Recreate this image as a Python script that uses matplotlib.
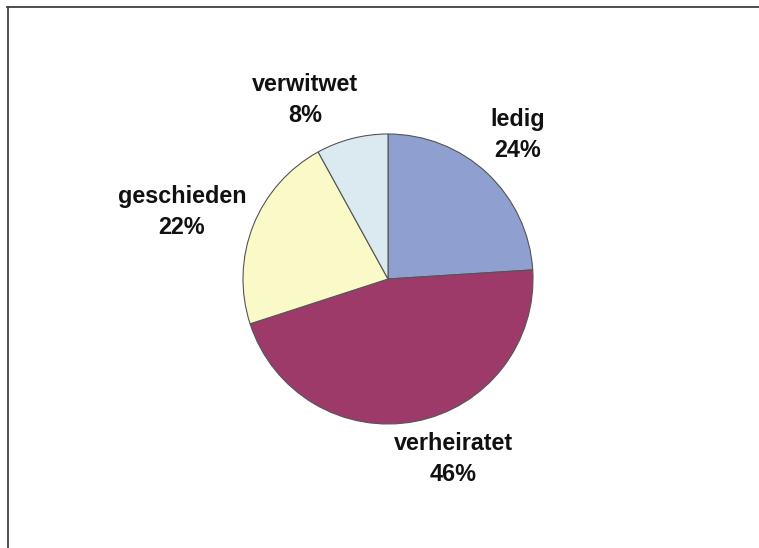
import matplotlib.pyplot as plt

# Familienstand
categories = ["ledig", "verheiratet", "geschieden", "verwitwet"]
shares = [24, 46, 22, 8]
colors = ["#8f9fcf", "#9e3a6a", "#fafac8", "#daeaf0"]

# label anchor points (pixel space, y measured from bottom)
label_pos = [(518, 413), (453, 89), (182, 336), (305, 448)]

fig = plt.figure(figsize=(7.59, 5.48), dpi=100)
ax = fig.add_axes([0, 0, 1, 1])

ax.pie(shares, colors=colors, startangle=90, counterclock=False,
       center=(388, 269), radius=145, frame=True,
       wedgeprops=dict(edgecolor="#555555", linewidth=0.8))
ax.set_xlim(0, 759)
ax.set_ylim(0, 548)
ax.set_aspect("equal")
ax.axis("off")

for name, val, (x, y) in zip(categories, shares, label_pos):
    ax.text(x, y, f"{name}\n{val}%", ha="center", va="center",
            fontsize=16.8, fontweight="bold", family="Liberation Sans",
            color="#111111", linespacing=1.45)

# outer frame (top and left edges)
ax.plot([7, 759], [541.5, 541.5], color="#404040", lw=1.3)
ax.plot([7.5, 7.5], [0, 541.5], color="#404040", lw=1.3)

fig.savefig("out.png", dpi=100)
